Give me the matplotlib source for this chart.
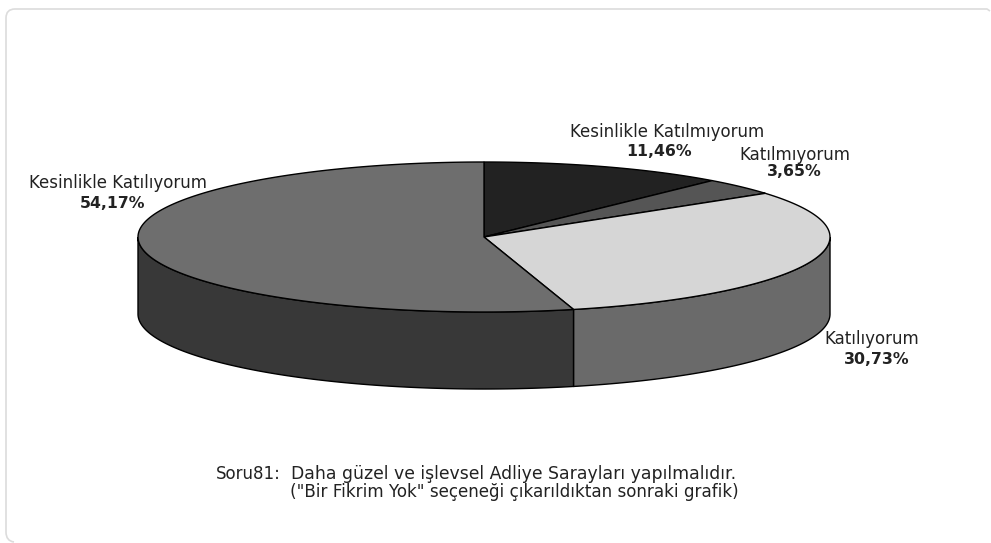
import numpy as np
import matplotlib
matplotlib.use("Agg")
import matplotlib.pyplot as plt
from matplotlib.patches import Polygon
from matplotlib.path import Path
from matplotlib.patches import PathPatch

labels = ["Kesinlikle Katılmıyorum", "Katılmıyorum", "Katılıyorum", "Kesinlikle Katılıyorum"]
values = [11.46, 3.65, 30.73, 54.17]
value_texts = ["11,46%", "3,65%", "30,73%", "54,17%"]
top_colors = ["#222222", "#555555", "#d6d6d6", "#6e6e6e"]
side_colors = ["#1a1a1a", "#3a3a3a", "#6a6a6a", "#383838"]
label_pos = [(667, 132), (795, 155), (872, 339), (118, 183)]
value_pos = [(659, 151), (794, 172), (877, 360), (113, 204)]
caption_head = "Soru81:"
caption_lines = ["Daha güzel ve işlevsel Adliye Sarayları yapılmalıdır.",
                 "(\"Bir Fikrim Yok\" seçeneği çıkarıldıktan sonraki grafik)"]

plt.rcParams['font.family'] = ['DejaVu Sans']
fig = plt.figure(figsize=(9.91, 5.43), dpi=100, facecolor="white")
ax = fig.add_axes([0, 0, 1, 1])
ax.set_xlim(0, 991)
ax.set_ylim(543, 0)
ax.axis("off")

# frame: only the top and left edges are visible in the source
frame = Path([(990, 11), (987, 9), (15, 9), (6, 9), (6, 18), (6, 532), (6, 541), (14, 542)],
             [Path.MOVETO, Path.LINETO, Path.LINETO, Path.CURVE3, Path.CURVE3,
              Path.LINETO, Path.CURVE3, Path.CURVE3])
ax.add_patch(PathPatch(frame, fc="none", ec="#dcdcdc", lw=1.2))

cx, cy, rx, ry, depth = 484, 237, 346, 75, 77
total = sum(values)
start = 90.0
spans = []
for v in values:
    end = start - v / total * 360
    spans.append((start, end))
    start = end

def arc(a0, a1, n=200):
    t = np.radians(np.linspace(a0, a1, n))
    return cx + rx * np.cos(t), cy - ry * np.sin(t)

for (a0, a1), col in zip(spans, side_colors):
    lo, hi = max(min(a0, a1), -180), min(max(a0, a1), 0)
    if lo < hi:
        x, y = arc(hi, lo)
        pts = np.r_[np.c_[x, y], np.c_[x[::-1], y[::-1] + depth]]
        ax.add_patch(Polygon(pts, closed=True, fc=col, ec="black", lw=1.0, zorder=2))

for (a0, a1), col in zip(spans, top_colors):
    x, y = arc(a0, a1)
    pts = np.r_[[[cx, cy]], np.c_[x, y]]
    ax.add_patch(Polygon(pts, closed=True, fc=col, ec="black", lw=1.0, zorder=3))

fs_label, fs_value = 12, 11.3
for lab, val, lp, vp in zip(labels, value_texts, label_pos, value_pos):
    ax.text(*lp, lab, ha="center", va="center", fontsize=fs_label, color="#222222")
    ax.text(*vp, val, ha="center", va="center", fontsize=fs_value, fontweight="bold", color="#222222")

ax.text(216, 474, caption_head, ha="left", va="center", fontsize=12, color="#222222")
ax.text(291, 474, caption_lines[0], ha="left", va="center", fontsize=12.45, color="#222222")
ax.text(290, 492, caption_lines[1], ha="left", va="center", fontsize=12.1, color="#222222")

fig.savefig("out.png", dpi=100)
